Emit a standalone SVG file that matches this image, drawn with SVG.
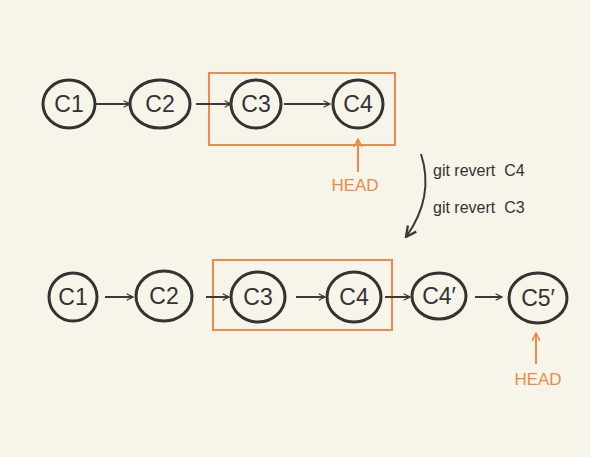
<svg xmlns="http://www.w3.org/2000/svg" width="590" height="457" viewBox="0 0 590 457">
<defs>
<marker id="ah" viewBox="0 0 10 10" refX="9" refY="5" markerWidth="8" markerHeight="8" markerUnits="userSpaceOnUse" orient="auto"><path d="M1,1 L9,5 L1,9" fill="none" stroke="#3a3a3a" stroke-width="1.6"/></marker>
<marker id="ahl" viewBox="0 0 10 10" refX="9" refY="5" markerWidth="13" markerHeight="13" markerUnits="userSpaceOnUse" orient="auto"><path d="M1,1 L9,5 L1,9" fill="none" stroke="#3a3a3a" stroke-width="1.8"/></marker>
<marker id="aho" viewBox="0 0 10 10" refX="9" refY="5" markerWidth="10" markerHeight="10" markerUnits="userSpaceOnUse" orient="auto"><path d="M1,1 L9,5 L1,9" fill="none" stroke="#f08a4b" stroke-width="1.6"/></marker>
</defs>
<style>
.n ellipse{fill:none;stroke:#333;stroke-width:3}
.n text{font-family:"Liberation Sans",Arial,sans-serif;font-size:23px;fill:#333;text-anchor:middle}
.c{fill:none;stroke:#3a3a3a;stroke-width:2}
.box{fill:none;stroke:#f08a4b;stroke-width:2}
.head{font-family:"Liberation Sans",Arial,sans-serif;font-size:17px;fill:#f08a4b;text-anchor:middle}
.ho{fill:none;stroke:#f08a4b;stroke-width:2}
.cmd{font-family:"Liberation Sans",Arial,sans-serif;font-size:16px;fill:#333;white-space:pre}
</style>
<rect width="590" height="457" fill="#f7f4e9"/>
<g id="box-top"><rect class="box" x="209" y="73" width="186" height="72"/></g>
<g id="box-bottom"><rect class="box" x="213" y="260" width="179" height="70"/></g>
<g id="t-c1" class="n"><ellipse cx="69" cy="104" rx="26" ry="24"/><text x="69" y="112">C1</text></g>
<g id="t-c2" class="n"><ellipse cx="160" cy="104" rx="30" ry="24"/><text x="160" y="112">C2</text></g>
<g id="t-c3" class="n"><ellipse cx="256" cy="104" rx="25" ry="24"/><text x="256" y="112">C3</text></g>
<g id="t-c4" class="n"><ellipse cx="358" cy="104" rx="25" ry="24"/><text x="358" y="112">C4</text></g>
<g id="b-c1" class="n"><ellipse cx="73" cy="297" rx="24" ry="24"/><text x="73" y="305">C1</text></g>
<g id="b-c2" class="n"><ellipse cx="164" cy="296" rx="28" ry="25"/><text x="164" y="304">C2</text></g>
<g id="b-c3" class="n"><ellipse cx="258" cy="297" rx="27" ry="25"/><text x="258" y="305">C3</text></g>
<g id="b-c4" class="n"><ellipse cx="354" cy="297" rx="27" ry="25"/><text x="354" y="305">C4</text></g>
<g id="b-c4p" class="n"><ellipse cx="439" cy="296" rx="27" ry="23"/><text x="439" y="304">C4′</text></g>
<g id="b-c5p" class="n"><ellipse cx="538" cy="298" rx="29" ry="25"/><text x="538" y="306">C5′</text></g>
<g id="head-top"><path class="ho" d="M358,172 L358,139" marker-end="url(#aho)"/><text class="head" x="355" y="191">HEAD</text></g>
<g id="head-bottom"><path class="ho" d="M536,364 L536,333" marker-end="url(#aho)"/><text class="head" x="538" y="385">HEAD</text></g>
<g id="commands"><text class="cmd" x="433" y="176" xml:space="preserve">git revert  C4</text><text class="cmd" x="433" y="213" xml:space="preserve">git revert  C3</text></g>
<g id="connectors">
<path class="c" d="M96,104 L130,104" marker-end="url(#ah)"/>
<path class="c" d="M196,104 L231,104" marker-end="url(#ah)"/>
<path class="c" d="M284,104 L330,104" marker-end="url(#ah)"/>
<path class="c" d="M105,297 L133,297" marker-end="url(#ah)"/>
<path class="c" d="M206,297 L229,297" marker-end="url(#ah)"/>
<path class="c" d="M296,297 L325,297" marker-end="url(#ah)"/>
<path class="c" d="M385,297 L410,297" marker-end="url(#ah)"/>
<path class="c" d="M475,297 L502,297" marker-end="url(#ah)"/>
<path class="c" d="M421,154 C431,185 424,212 406,237" stroke-width="3" marker-end="url(#ahl)"/>
</g>
</svg>
